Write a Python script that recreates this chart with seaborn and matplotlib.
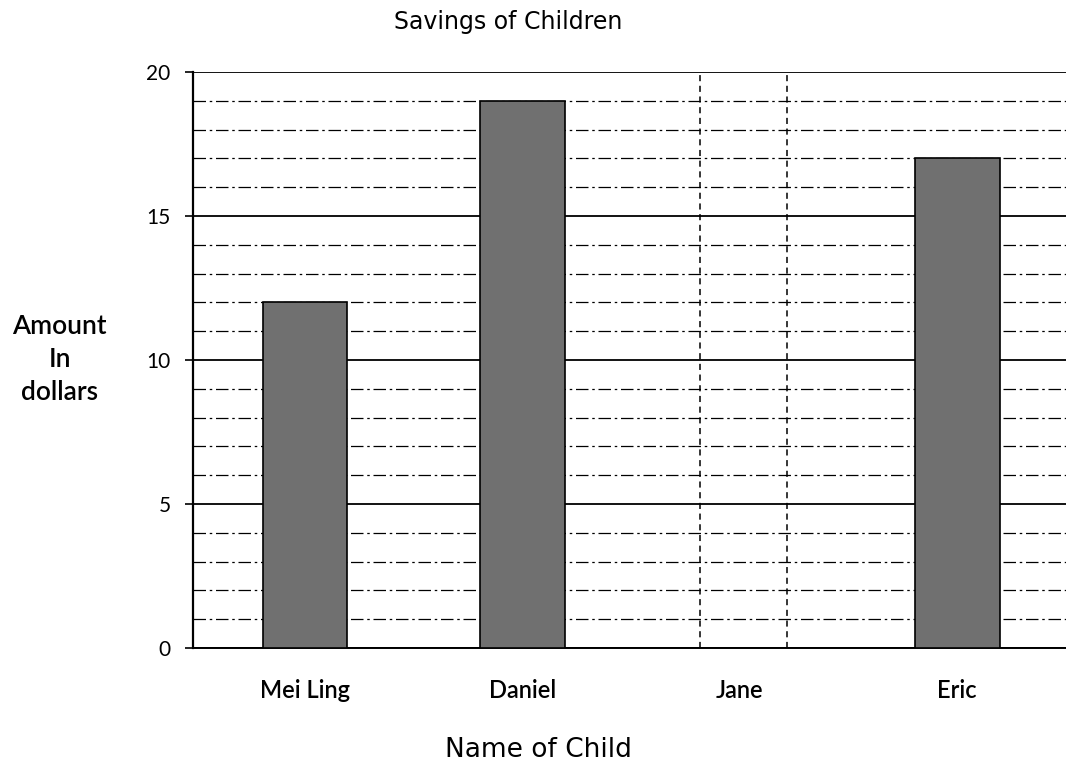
import matplotlib
matplotlib.use("Agg")
import matplotlib.pyplot as plt
from matplotlib.ticker import MultipleLocator
import seaborn as sns
import pandas as pd

children = ["Mei Ling", "Daniel", "Jane", "Eric"]
savings = [12, 19, None, 17]
y_ticks = [0, 5, 10, 15, 20]

sns.set_theme(style="white")
plt.rcParams["font.family"] = ["Lato", "DejaVu Sans"]
plt.rcParams["text.color"] = "black"
plt.rcParams["xtick.color"] = "black"
plt.rcParams["ytick.color"] = "black"
plt.rcParams["xtick.labelcolor"] = "black"
plt.rcParams["ytick.labelcolor"] = "black"

df = pd.DataFrame({"child": children, "amount": savings})

fig = plt.figure(figsize=(10.66, 7.65), dpi=100)
ax = fig.add_axes([0.181, 0.153, 0.819, 0.753])

bar_w = 0.39
sns.barplot(data=df, x="child", y="amount", order=children, color="#707070",
            width=bar_w, edgecolor="black", linewidth=1.2, saturation=1,
            ax=ax, zorder=3)

# Dashed outline marking Jane's missing bar
j = children.index("Jane")
ax.vlines([j - bar_w / 2 + 0.01, j + bar_w / 2 + 0.02], 0, max(y_ticks), colors="black",
          linestyles=(0, (4, 3)), linewidth=1.1, zorder=4)

ax.set_ylim(0, 20)
ax.set_xlim(-0.515, 3.5)
ax.set_yticks(y_ticks)
ax.yaxis.set_minor_locator(MultipleLocator(1))
ax.grid(axis="y", which="major", color="black", linewidth=1.3, linestyle="-", zorder=0)
ax.grid(axis="y", which="minor", color="black", linewidth=0.9,
        linestyle=(0, (10, 3, 2, 3)), zorder=0)
ax.set_axisbelow(True)

for s in ["top", "right"]:
    ax.spines[s].set_visible(False)
ax.spines["left"].set_color("black")
ax.spines["left"].set_linewidth(1.6)
ax.spines["bottom"].set_color("black")
ax.spines["bottom"].set_linewidth(1.4)

ax.tick_params(axis="y", which="major", left=True, length=6, width=1.2,
               color="black", labelsize=15, pad=10)
ax.tick_params(axis="y", which="minor", left=False)
ax.tick_params(axis="x", bottom=False, labelsize=17, pad=16)
for t in ax.get_xticklabels():
    t.set_fontweight("semibold")

ax.set_xlabel("")
ax.set_ylabel("")
fig.text(0.477, 0.971, "Savings of Children", ha="center", va="center",
         fontsize=17, family="DejaVu Sans")
fig.text(0.505, 0.020, "Name of Child", ha="center", va="center",
         fontsize=19, family="DejaVu Sans")
fig.text(0.056, 0.530, "Amount\nIn\ndollars", ha="center", va="center",
         fontsize=19, fontweight="semibold", linespacing=1.38)

fig.savefig("out.png", dpi=100)
